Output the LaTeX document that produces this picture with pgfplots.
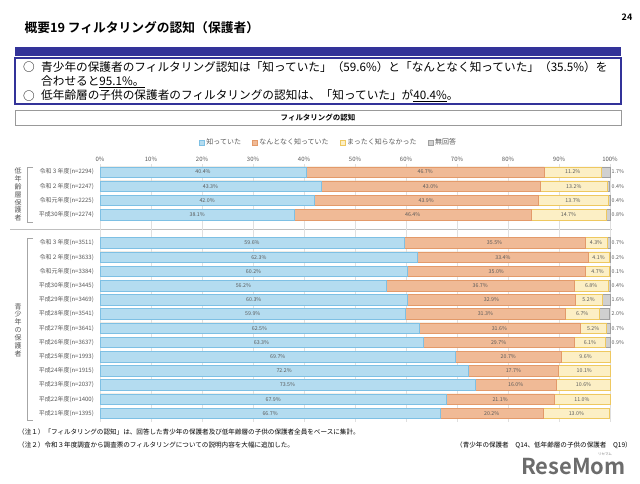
\documentclass[border=0pt]{standalone}
\usepackage{fontspec}
\setmainfont{Noto Sans CJK JP}[BoldFont={Noto Sans CJK JP Bold}]
\usepackage{pgfplots}
\usepackage{pgfplotstable}
\pgfplotsset{compat=1.18}
\definecolor{navy}{HTML}{333399}
\definecolor{blueF}{HTML}{B4DCF0}
\definecolor{blueD}{HTML}{7EC0E4}
\definecolor{orangeF}{HTML}{F0BA96}
\definecolor{orangeD}{HTML}{E39A6A}
\definecolor{yellowF}{HTML}{FCEFC5}
\definecolor{yellowD}{HTML}{EEC860}
\definecolor{greyF}{HTML}{D0D0D0}
\definecolor{greyD}{HTML}{A0A0A0}
\definecolor{txt}{HTML}{595959}

\pgfplotstableread{
pos a b c d
17 40.4 46.7 11.2 1.7
16 43.3 43.0 13.2 0.4
15 42.0 43.9 13.7 0.4
14 38.1 46.4 14.7 0.8
12 59.6 35.5 4.3 0.7
11 62.3 33.4 4.1 0.2
10 60.2 35.0 4.7 0.1
9 56.2 36.7 6.8 0.4
8 60.3 32.9 5.2 1.6
7 59.9 31.3 6.7 2.0
6 62.5 31.6 5.2 0.7
5 63.3 29.7 6.1 0.9
4 69.7 20.7 9.6 nan
3 72.2 17.7 10.1 nan
2 73.5 16.0 10.6 nan
1 67.9 21.1 11.0 nan
0 66.7 20.2 13.0 nan
}\datatable

\begin{document}
\begin{tikzpicture}[x=1bp,y=1bp]
\path[use as bounding box, fill=white] (0,0) rectangle (640,-484);
% header
\node[font=\bfseries\fontsize{9}{10}\selectfont] at (627,-17) {24};
\node[anchor=west, font=\bfseries\fontsize{12.8}{14}\selectfont] at (21,-28) {概要19 フィルタリングの認知（保護者）};
\fill[navy] (15,-47) rectangle (621,-56);
\draw[navy, line width=1.2bp] (15,-58) rectangle (621,-104);
\begin{scope}[font=\fontsize{11.7}{13}\selectfont]
\node at (29,-67) {○};
\node[anchor=west, inner sep=0] at (41,-67) {青少年の保護者のフィルタリング認知は「知っていた」（59.6\%）と「なんとなく知っていた」（35.5\%）を};
\node[anchor=west, inner sep=0] at (41,-82) {合わせると\underline{95.1\%。}};
\node at (29,-96) {○};
\node[anchor=west, inner sep=0] at (41,-96) {低年齢層の子供の保護者のフィルタリングの認知は、「知っていた」が\underline{40.4\%}。};
\end{scope}
% chart title box
\draw[gray!80, line width=0.6bp] (15,-110) rectangle (621,-125);
\node[font=\bfseries\fontsize{7.5}{8}\selectfont] at (318,-117.5) {フィルタリングの認知};
% group labels and brackets
\node[font=\fontsize{7}{7.9}\selectfont, text=txt, align=center] at (18,-194.5) {低\\年\\齢\\層\\保\\護\\者};
\node[font=\fontsize{7}{7.9}\selectfont, text=txt, align=center] at (18,-330) {青\\少\\年\\の\\保\\護\\者};
\draw[gray!70, line width=0.5bp] (33,-167) -- (27,-167) -- (27,-222) -- (33,-222);
\draw[gray!70, line width=0.5bp] (33,-238) -- (27,-238) -- (27,-420) -- (33,-420);
\draw[gray!50, line width=0.5bp] (10,-229.5) -- (612,-229.5);

\begin{axis}[
  at={(100bp,-163.5bp)}, anchor=north west,
  scale only axis, width=510bp, height=258.3bp,
  xmin=0, xmax=100, ymin=-0.6, ymax=17.6,
  clip=false,
  axis line style={draw=none},
  major tick length=0pt,
  xtick={0,10,...,100},
  xticklabel={\pgfmathprintnumber{\tick}\%},
  xticklabel pos=upper,
  xticklabel style={font=\fontsize{6}{7}\selectfont, text=txt, inner sep=2pt},
  xmajorgrids, grid style={gray!25, line width=0.5bp},
  ytick={17,16,15,14,12,11,10,9,8,7,6,5,4,3,2,1,0},
  yticklabels={令和３年度(n=2294),令和２年度(n=2247),令和元年度(n=2225),平成30年度(n=2274),
    令和３年度(n=3511),令和２年度(n=3633),令和元年度(n=3384),平成30年度(n=3445),平成29年度(n=3469),
    平成28年度(n=3541),平成27年度(n=3641),平成26年度(n=3637),平成25年度(n=1993),平成24年度(n=1915),
    平成23年度(n=2037),平成22年度(n=1400),平成21年度(n=1395)},
  yticklabel style={font=\fontsize{6}{7}\selectfont, text=txt, anchor=east, inner sep=1pt, xshift=-5bp},
  /pgf/number format/assume math mode=true,
  legend columns=4, reverse legend,
  legend style={draw=none, fill=none, at={(0.448,1)}, anchor=south, yshift=13bp,
    font=\fontsize{7}{8}\selectfont, text=txt,
    /tikz/every even column/.append style={column sep=9bp}},
  legend image code/.code={\draw[#1, line width=0.5bp] (0bp,-2.5bp) rectangle (5bp,2.5bp);},
  legend cell align=left,
  nodes near coords style={font=\fontsize{5.3}{6}\selectfont, text=txt, inner sep=0.5pt},
]
\addplot[xbar, bar width=10.5bp, bar shift=0pt, fill=greyF, draw=greyD, line width=0.5bp]
  table[y=pos, x expr=\thisrow{a}+\thisrow{b}+\thisrow{c}+\thisrow{d}] {\datatable};
\addplot[xbar, bar width=10.5bp, bar shift=0pt, fill=yellowF, draw=yellowD, line width=0.5bp]
  table[y=pos, x expr=\thisrow{a}+\thisrow{b}+\thisrow{c}] {\datatable};
\addplot[xbar, bar width=10.5bp, bar shift=0pt, fill=orangeF, draw=orangeD, line width=0.5bp]
  table[y=pos, x expr=\thisrow{a}+\thisrow{b}] {\datatable};
\addplot[xbar, bar width=10.5bp, bar shift=0pt, fill=blueF, draw=blueD, line width=0.5bp]
  table[y=pos, x=a] {\datatable};
\legend{無回答,まったく知らなかった,なんとなく知っていた,知っていた}
% value labels
\addplot[only marks, mark=none, point meta=explicit, forget plot,
  nodes near coords={\pgfmathprintnumber[fixed,fixed zerofill,precision=1]{\pgfplotspointmeta}\%},
  nodes near coords style={anchor=center}]
  table[y=pos, x expr=\thisrow{a}/2, meta=a] {\datatable};
\addplot[only marks, mark=none, point meta=explicit, forget plot,
  nodes near coords={\pgfmathprintnumber[fixed,fixed zerofill,precision=1]{\pgfplotspointmeta}\%},
  nodes near coords style={anchor=center}]
  table[y=pos, x expr=\thisrow{a}+\thisrow{b}/2, meta=b] {\datatable};
\addplot[only marks, mark=none, point meta=explicit, forget plot,
  nodes near coords={\pgfmathprintnumber[fixed,fixed zerofill,precision=1]{\pgfplotspointmeta}\%},
  nodes near coords style={anchor=center}]
  table[y=pos, x expr=\thisrow{a}+\thisrow{b}+\thisrow{c}/2, meta=c] {\datatable};
\addplot[only marks, mark=none, point meta=explicit, forget plot,
  nodes near coords={\pgfmathprintnumber[fixed,fixed zerofill,precision=1]{\pgfplotspointmeta}\%},
  nodes near coords style={anchor=west}]
  table[y=pos, x expr=\thisrow{d}*0+100.2, meta=d] {\datatable};
\end{axis}

% footnotes
\begin{scope}[font=\fontsize{6.6}{7.5}\selectfont]
\node[anchor=west, inner sep=0] at (18,-432) {（注１）「フィルタリングの認知」は、回答した青少年の保護者及び低年齢層の子供の保護者全員をベースに集計。};
\node[anchor=west, inner sep=0] at (18,-445) {（注２）令和３年度調査から調査票のフィルタリングについての説明内容を大幅に追加した。};
\node[anchor=east, inner sep=0] at (632,-445) {（青少年の保護者　Q14、低年齢層の子供の保護者　Q19）};
\end{scope}
\node[anchor=east, inner sep=0, font=\bfseries\fontsize{22}{22}\selectfont, text=gray!85!black] at (626,-467) {ReseMom};
\node[font=\fontsize{3.5}{4}\selectfont, text=gray] at (605,-454) {リセマム};
\end{tikzpicture}
\end{document}
